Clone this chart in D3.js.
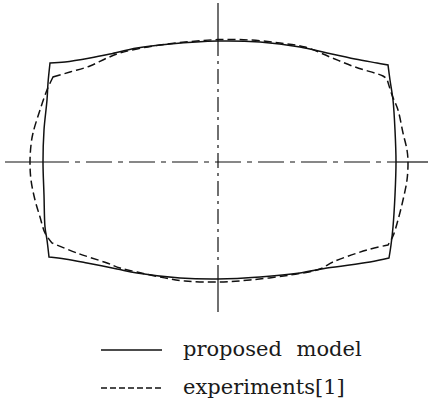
<!DOCTYPE html>
<html>
<head>
<meta charset="utf-8">
<script src="https://cdn.jsdelivr.net/npm/d3@7"></script>
<style>
  html, body { margin: 0; padding: 0; background: #fff; }
  svg { display: block; }
  .legend text { font-family: "DejaVu Serif", serif; font-size: 21px; fill: #1a1a1a; word-spacing: 8px; }
</style>
</head>
<body>
<svg id="chart" width="429" height="403"></svg>
<script>
// Deformed cross-section contours (mm, origin at the section centre, y up).
// Each contour starts at its upper-left corner and runs clockwise.
const modelX = [-42, -38.25, -32, -27, -20.25, -12, 0, 10.5, 20.5, 27.25, 34.25, 39.75, 42.5,
  43, 43.75, 44.25, 44.5, 44.25, 43.75, 43.25, 42.75,
  38, 27.25, 20.5, 10.5, 0, -9.5, -20.25, -25.25, -32.75, -38.25, -42.25,
  -42.75, -43.25, -43.5, -43.75, -43.5, -42.75, -42.5];
const modelY = [24.75, 25, 26, 27, 28.5, 29.5, 30.25, 30, 28.75, 27.25, 25.75, 24.75, 24.25,
  20.5, 15.5, 8, 0, -8.25, -16.25, -20.75, -24,
  -25, -26.5, -27.75, -28.75, -29.25, -29, -27.75, -26.75, -25.25, -24.25, -23.75,
  -19.5, -16.25, -8.25, 0, 8, 15.5, 19.75];
const modelCorners = [0, 12, 20, 31];

const expX = [-41.25, -37, -32, -27.75, -24.5, -20.25, -14.5, -7, 0, 8, 15.5, 21.75, 28, 34.25, 41.25, 42.25,
  43.5, 45, 46.25, 47.25, 47.5, 47.25, 46.25, 45, 43.75, 42.5,
  37.25, 28.75, 25.5, 18, 8, 0, -8.25, -14.5, -20.25, -24.5, -27.75, -35.25, -41.5,
  -43.25, -44.5, -45.75, -46.75, -47, -46.75, -46.25, -44.5, -42.75];
const expY = [21.25, 22.5, 24, 26, 27.25, 28.25, 29.25, 30.1, 30.6, 30.5, 29.75, 28.75, 26.25, 23.75, 21.5, 20.75,
  16.75, 13, 7.25, 3, 0, -4.5, -9.5, -14.5, -18.5, -20.75,
  -22, -25, -26.75, -28.25, -29.5, -30, -29.75, -28.75, -27.5, -26.5, -25.25, -22.75, -20.25,
  -17.75, -13.75, -9.5, -4.5, 0, 4.25, 7.25, 13, 18];
const expCorners = [0, 15, 25, 38];

// Extent of the symmetry axes (mm)
const axisXExtent = [-53.25, 52.5];
const axisYExtent = [-37.5, 39.75];

const legendLabels = ["proposed model", "experiments[1]"];

const svg = d3.select("#chart");

const x = d3.scaleLinear().domain(axisXExtent).range([5, 428]);
const y = d3.scaleLinear().domain(axisYExtent).range([312, 3]);

const modelPts = modelX.map((d, i) => [d, modelY[i]]);
const expPts = expX.map((d, i) => [d, expY[i]]);

// Symmetry axes: solid outside the section, chain-dotted inside it
const modelLeft = d3.min(modelX), modelRight = d3.max(modelX);
const modelTop = d3.max(modelY), modelBottom = d3.min(modelY);
const axes = svg.append("g").attr("stroke", "#111").attr("stroke-width", 1.2).attr("fill", "none");

axes.append("line").attr("x1", x(axisXExtent[0])).attr("x2", x(modelLeft)).attr("y1", y(0)).attr("y2", y(0));
axes.append("line").attr("x1", x(modelRight)).attr("x2", x(axisXExtent[1])).attr("y1", y(0)).attr("y2", y(0));
axes.append("line").attr("x1", x(modelLeft)).attr("x2", x(modelRight)).attr("y1", y(0)).attr("y2", y(0))
  .attr("stroke-dasharray", "26,6,5,6");

axes.append("line").attr("x1", x(0)).attr("x2", x(0)).attr("y1", y(axisYExtent[1])).attr("y2", y(modelTop));
axes.append("line").attr("x1", x(0)).attr("x2", x(0)).attr("y1", y(modelBottom)).attr("y2", y(axisYExtent[0]));
axes.append("line").attr("x1", x(0)).attr("x2", x(0)).attr("y1", y(modelTop)).attr("y2", y(modelBottom))
  .attr("stroke-dasharray", "15,5,3,5");

// Smooth edges between sharp corners, joined into one closed outline
const edge = d3.line()
  .x(d => x(d[0]))
  .y(d => y(d[1]))
  .curve(d3.curveCatmullRom.alpha(0.5));

function contourPath(pts, corners) {
  const n = pts.length;
  const parts = corners.map((c, k) => {
    const end = k + 1 < corners.length ? corners[k + 1] : n;
    const seg = [];
    for (let i = c; i <= end; i++) seg.push(pts[i % n]);
    const d = edge(seg);
    return k === 0 ? d : "L" + d.slice(1);
  });
  return parts.join("") + "Z";
}

svg.append("path")
  .attr("d", contourPath(expPts, expCorners))
  .attr("fill", "none")
  .attr("stroke", "#111")
  .attr("stroke-width", 1.5)
  .attr("stroke-dasharray", "8,4");

svg.append("path")
  .attr("d", contourPath(modelPts, modelCorners))
  .attr("fill", "none")
  .attr("stroke", "#111")
  .attr("stroke-width", 1.5)
  .attr("stroke-linejoin", "miter");

// Legend
const legend = svg.append("g").attr("class", "legend");
const rows = legend.selectAll("g").data(legendLabels).join("g")
  .attr("transform", (d, i) => `translate(0, ${350 + i * 38})`);
rows.append("line")
  .attr("x1", 101).attr("x2", 162)
  .attr("y1", 0).attr("y2", 0)
  .attr("stroke", "#111")
  .attr("stroke-width", 1.3)
  .attr("stroke-dasharray", (d, i) => i === 0 ? null : "6,3");
rows.append("text")
  .attr("x", 183)
  .attr("y", 6)
  .text(d => d);
</script>
</body>
</html>
